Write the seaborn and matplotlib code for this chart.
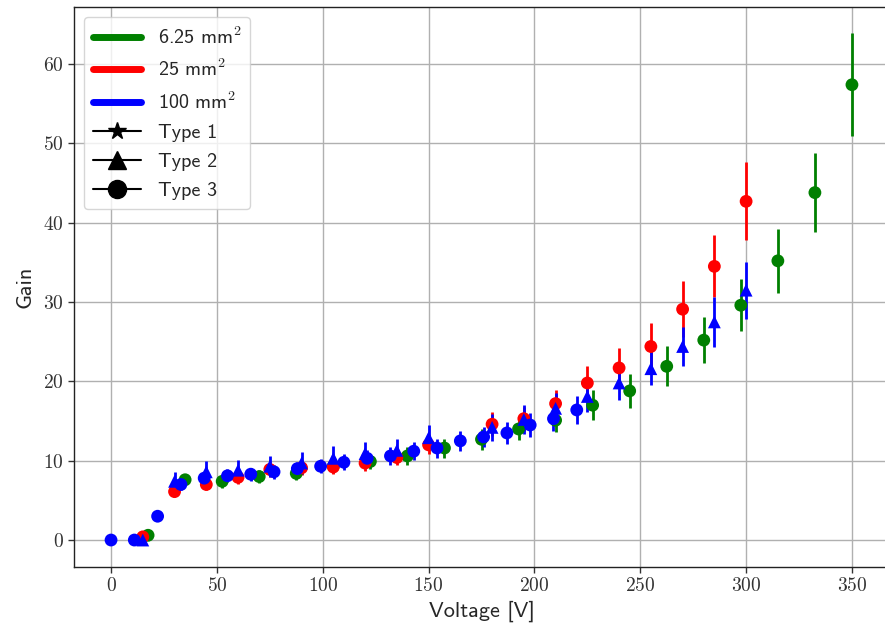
import numpy as np
import pandas as pd
import matplotlib
matplotlib.use("Agg")
import matplotlib.pyplot as plt
from matplotlib.lines import Line2D
from matplotlib.ticker import FuncFormatter, MultipleLocator
import seaborn as sns

# ---- measurements -------------------------------------------------------
# 6.25 mm^2 sensor, Type 3
v_small = [17.5, 35, 52.5, 70, 87.5, 105, 122.5, 140, 157.5, 175, 192.5, 210,
           227.5, 245, 262.5, 280, 297.5, 315, 332.5, 350]
g_small = [0.6, 7.6, 7.4, 8.0, 8.4, 9.3, 9.9, 10.6, 11.6, 12.7, 14.0, 15.1,
           17.0, 18.8, 21.9, 25.2, 29.6, 35.2, 43.8, 57.4]
e_small = [0.3, 0.7, 0.8, 0.8, 0.8, 0.9, 1.0, 1.1, 1.2, 1.3, 1.4, 1.5,
           1.9, 2.1, 2.5, 2.9, 3.3, 4.0, 5.0, 6.5]

# 25 mm^2 sensor, Type 3
v_mid = [15, 30, 45, 60, 75, 90, 105, 120, 135, 150, 180, 195, 210, 225,
         240, 255, 270, 285, 300]
g_mid = [0.4, 6.1, 7.0, 7.9, 8.9, 9.1, 9.2, 9.7, 10.4, 12.0, 14.6, 15.3,
         17.2, 19.8, 21.7, 24.4, 29.1, 34.5, 42.7]
e_mid = [0.3, 0.6, 0.7, 0.8, 0.9, 0.9, 0.9, 1.0, 1.0, 1.2, 1.5, 1.5,
         1.7, 2.1, 2.5, 3.0, 3.5, 3.9, 4.9]

# 100 mm^2 sensor, Type 2
v_big2 = [15, 30, 45, 60, 75, 90, 105, 120, 135, 150, 180, 195, 210, 225,
          240, 255, 270, 285, 300]
g_big2 = [0.0, 7.4, 8.6, 8.8, 9.3, 9.7, 10.3, 10.9, 11.3, 12.9, 14.2, 15.2,
          16.6, 18.1, 19.8, 21.6, 24.4, 27.5, 31.5]
e_big2 = [0.3, 1.2, 1.4, 1.3, 1.3, 1.4, 1.5, 1.5, 1.5, 1.6, 1.7, 1.8,
          1.9, 2.0, 2.1, 2.1, 2.4, 3.2, 3.6]

# 100 mm^2 sensor, Type 3
v_big3 = [0, 11, 22, 33, 44, 55, 66, 77, 88, 99, 110, 121, 132, 143, 154,
          165, 176, 187, 198, 209, 220]
g_big3 = [0.0, 0.0, 3.0, 7.0, 7.8, 8.1, 8.3, 8.6, 9.0, 9.3, 9.8, 10.3, 10.6,
          11.2, 11.6, 12.5, 13.0, 13.5, 14.5, 15.3, 16.4]
e_big3 = [0.2, 0.2, 0.3, 0.7, 0.8, 0.8, 0.8, 0.9, 0.9, 0.9, 1.0, 1.0, 1.1,
          1.1, 1.2, 1.3, 1.3, 1.4, 1.5, 1.6, 1.8]

area_labels = ["6.25 mm$^2$", "25 mm$^2$", "100 mm$^2$"]
type_labels = ["Type 1", "Type 2", "Type 3"]
area_colors = {"6.25": "green", "25": "red", "100": "blue"}
type_markers = {"Type 1": "*", "Type 2": "^", "Type 3": "o"}

series = [
    ("6.25", "Type 3", v_small, g_small, e_small),
    ("25", "Type 3", v_mid, g_mid, e_mid),
    ("100", "Type 2", v_big2, g_big2, e_big2),
    ("100", "Type 3", v_big3, g_big3, e_big3),
]

frames = []
for area, typ, v, g, e in series:
    frames.append(pd.DataFrame({"voltage": v, "gain": g, "err": e,
                                "area": area, "type": typ}))
df = pd.concat(frames, ignore_index=True)

# ---- styling --------------------------------------------------------------
sns.set_style("ticks")
plt.rcParams["mathtext.fontset"] = "cm"
plt.rcParams["font.family"] = ["cmss10", "DejaVu Sans"]
plt.rcParams["axes.unicode_minus"] = False

fig = plt.figure(figsize=(8.85, 6.27), dpi=100)
ax = fig.add_axes([74 / 885, 60 / 627, 815 / 885, 560 / 627])

# error bars first, markers on top
for area, typ, v, g, e in series:
    ax.errorbar(v, g, yerr=e, fmt="none", ecolor=area_colors[area],
                elinewidth=2.0, capsize=0, zorder=2)

sns.scatterplot(data=df, x="voltage", y="gain", hue="area", style="type",
                palette=area_colors, markers=type_markers, s=85,
                linewidth=0, legend=False, ax=ax, zorder=3)

ax.set_xlim(-17.5, 367.5)
ax.set_ylim(-3.4, 67.2)
ax.xaxis.set_major_locator(MultipleLocator(50))
ax.yaxis.set_major_locator(MultipleLocator(10))
ax.xaxis.set_major_formatter(FuncFormatter(lambda x, p: f"${x:g}$"))
ax.yaxis.set_major_formatter(FuncFormatter(lambda x, p: f"${x:g}$"))
ax.tick_params(labelsize=14, length=4, width=1, colors="#333333")
for sp in ax.spines.values():
    sp.set_color("#222222")
    sp.set_linewidth(1.0)
ax.spines["right"].set_visible(False)
ax.grid(True, color="#b0b0b0", linewidth=1.0)
ax.set_axisbelow(True)

ax.set_xlabel("Voltage [V]", fontsize=16, labelpad=4)
ax.set_ylabel("Gain", fontsize=16, labelpad=6)

handles = [Line2D([0], [0], color=c, lw=5) for c in
           [area_colors["6.25"], area_colors["25"], area_colors["100"]]]
handles += [Line2D([0], [0], color="black", lw=1.5, marker=type_markers[t],
                   markersize=13) for t in type_labels]
ax.legend(handles, area_labels + type_labels, loc="upper left",
          fontsize=14.5, handlelength=2.4, borderpad=0.45, labelspacing=0.55,
          framealpha=0.8, edgecolor="#cccccc", fancybox=True,
          borderaxespad=0.5)

fig.savefig("out.png", dpi=100)
